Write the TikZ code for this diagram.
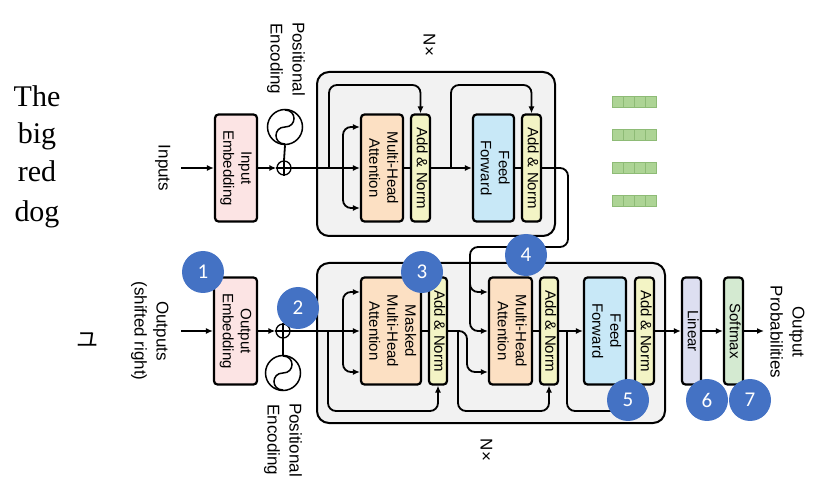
\documentclass[tikz,border=0pt]{standalone}
\usepackage{fontspec}
\setmainfont{Liberation Sans}
\newfontfamily\dogfont{Liberation Serif}
\newfontfamily\numfont{Carlito}
\newfontfamily\cjkfont{Noto Sans CJK JP}
\usepackage{graphicx}
\usetikzlibrary{arrows.meta,calc}
\definecolor{embpink}{HTML}{FCE4E4}
\definecolor{mhaorange}{HTML}{FCE0C3}
\definecolor{anyellow}{HTML}{F3F4C5}
\definecolor{ffblue}{HTML}{C8E8F7}
\definecolor{linpurple}{HTML}{DDDFF1}
\definecolor{softgreen}{HTML}{D4EAD1}
\definecolor{stackgray}{HTML}{F2F2F2}
\definecolor{circblue}{HTML}{4472C4}
\definecolor{sqgreen}{HTML}{ADD495}
\definecolor{sqedge}{HTML}{8EBB76}
\newcommand{\rottext}[1]{\rotatebox{-90}{\begin{tabular}{@{}c@{}}#1\end{tabular}}}
\begin{document}
\begin{tikzpicture}[x=1pt,y=-1pt,
  box/.style={draw=black, line width=2.2pt, rounded corners=3.5pt, inner sep=0pt,
    font=\fontsize{15}{18}\selectfont, minimum height=107pt},
  stack/.style={draw=black, line width=2pt, rounded corners=12pt, fill=stackgray},
  ln/.style={line width=1.8pt},
  arr/.style={line width=1.8pt, -{Latex[length=7pt,width=6pt]}},
  rc/.style={rounded corners=8pt},
  lbl/.style={font=\fontsize{17}{22}\selectfont, inner sep=0pt},
  num/.style={circle, fill=circblue, minimum size=42pt, inner sep=0pt, text=white,
    font=\numfont\fontsize{21}{21}\selectfont},
  plus/.style={circle, draw=black, line width=1.3pt, fill=white, minimum size=14pt, inner sep=0pt},
  pe/.style={circle, draw=black, line width=1.5pt, fill=white, minimum size=35pt, inner sep=0pt},
  sq/.style={fill=sqgreen, draw=sqedge, line width=0.8pt},
  word/.style={font=\dogfont\fontsize{30}{30}\selectfont, inner sep=0pt, anchor=base}
]
\useasboundingbox (0,0) rectangle (823,489);

% words
\node[word] (w1) at (37,107) {The};
\node[word] (w2) at (37,144) {big};
\node[word] (w3) at (37,182) {red};
\node[word] (w4) at (37,222) {dog};
\node[font=\cjkfont\fontsize{22}{22}\selectfont, inner sep=0pt] (ko) at (87,340) {ユ};

% green squares
\foreach \r/\yy in {1/96,2/129,3/162,4/195}{
  \foreach \c in {0,1,2,3}{
    \path[sq] (612+11*\c,\yy) rectangle (623+11*\c,\yy+11);
  }
}

% stacks
\draw[stack] (317,72) rectangle (555,236);
\draw[stack] (317,263) rectangle (665,423);
\node[lbl] (nx1) at (428,45) {\rottext{N×}};
\node[lbl] (nx2) at (485,450) {\rottext{N×}};

% encoder
\node[lbl] (inputs) at (163,168) {\rottext{Inputs}};
\coordinate (inA) at (181,168);
\node[box, fill=embpink, minimum width=42pt] (inemb) at (236,168) {\rottext{Input\\Embedding}};
\node[plus] (op1) at (284,168) {};
\draw[line width=1.3pt] (op1.north) -- (op1.south) (op1.west) -- (op1.east);
\node[pe] (pe1) at (285,127) {};
\draw[line width=1.5pt] ($(pe1)+(0,-17)$) .. controls +(12,0) and +(12,0) .. (pe1.center)
  .. controls +(-12,0) and +(-12,0) .. ($(pe1)+(0,17)$);
\node[lbl] (pel1) at (286,59) {\rottext{Positional\\Encoding}};

\node[box, fill=mhaorange, minimum width=42pt] (mha1) at (382,168) {\rottext{Multi-Head\\Attention}};
\node[box, fill=anyellow, minimum width=19pt] (an1) at (420.5,168) {\rottext{Add \& Norm}};
\node[box, fill=ffblue, minimum width=41pt] (ff1) at (493.5,168) {\rottext{Feed\\Forward}};
\node[box, fill=anyellow, minimum width=19pt] (an2) at (531.5,168) {\rottext{Add \& Norm}};

\draw[arr] (inA) -- (inemb.west);
\draw[arr] (inemb.east) -- (op1.west);
\draw[ln] (pe1.south) -- (op1.north);
\draw[arr] (op1.east) -- (mha1.west);
\coordinate (r1) at (329,168);
\draw[arr, rc] (r1) -- (329,85) -| (an1.north);
\coordinate (b1) at (343,168);
\draw[arr, rc] (b1) |- ($(mha1.west)+(0,-41)$);
\draw[arr, rc] (b1) |- ($(mha1.west)+(0,40)$);
\draw[ln] (mha1.east) -- (an1.west);
\draw[arr] (an1.east) -- (ff1.west);
\coordinate (r2) at (451,168);
\draw[arr, rc] (r2) -- (451,85) -| (an2.north);
\draw[ln] (ff1.east) -- (an2.west);

% decoder
\node[lbl] (outputs) at (150,331) {\rottext{Outputs\\(shifted right)}};
\coordinate (outA) at (181,331);
\node[box, fill=embpink, minimum width=43pt] (outemb) at (235.5,331) {\rottext{Output\\Embedding}};
\node[plus] (op2) at (283,331) {};
\draw[line width=1.3pt] (op2.north) -- (op2.south) (op2.west) -- (op2.east);
\node[pe] (pe2) at (283,373) {};
\draw[line width=1.5pt] ($(pe2)+(0,-17)$) .. controls +(12,0) and +(12,0) .. (pe2.center)
  .. controls +(-12,0) and +(-12,0) .. ($(pe2)+(0,17)$);
\node[lbl] (pel2) at (283,440) {\rottext{Positional\\Encoding}};

\node[box, fill=mhaorange, minimum width=60pt] (mmha) at (391,331) {\rottext{Masked\\Multi-Head\\Attention}};
\node[box, fill=anyellow, minimum width=18pt] (dan1) at (438,331) {\rottext{Add \& Norm}};
\node[box, fill=mhaorange, minimum width=43pt] (cmha) at (510.5,331) {\rottext{Multi-Head\\Attention}};
\node[box, fill=anyellow, minimum width=18pt] (dan2) at (549,331) {\rottext{Add \& Norm}};
\node[box, fill=ffblue, minimum width=42pt] (dff) at (605,331) {\rottext{Feed\\Forward}};
\node[box, fill=anyellow, minimum width=19pt] (dan3) at (644.5,331) {\rottext{Add \& Norm}};
\node[box, fill=linpurple, minimum width=19pt] (lin) at (691.5,331) {\rottext{Linear}};
\node[box, fill=softgreen, minimum width=19pt] (soft) at (733.5,331) {\rottext{Softmax}};
\node[lbl] (outp) at (786,332) {\rottext{Output\\Probabilities}};
\coordinate (outB) at (764,331);

\draw[arr] (outA) -- (outemb.west);
\draw[arr] (outemb.east) -- (op2.west);
\draw[ln] (pe2.north) -- (op2.south);
\draw[arr] (op2.east) -- (mmha.west);
\coordinate (r3) at (328,331);
\draw[arr, rc] (r3) -- (328,411) -| (dan1.south);
\coordinate (b2) at (343,331);
\draw[arr, rc] (b2) |- ($(mmha.west)+(0,-39)$);
\draw[arr, rc] (b2) |- ($(mmha.west)+(0,41)$);
\draw[ln] (mmha.east) -- (dan1.west);
% encoder output into cross attention
\draw[arr, rc] (an2.east) -- (568,168) -- (568,247) -- (470,247) |- (cmha.west);
\coordinate (b3) at (470,268);
\draw[arr, rc] (b3) |- ($(cmha.west)+(0,-39)$);
\draw[arr, rc] (dan1.east) -- (467,331) |- ($(cmha.west)+(0,41)$);
\coordinate (r4) at (458,331);
\draw[arr, rc] (r4) -- (458,411) -| (dan2.south);
\draw[ln] (cmha.east) -- (dan2.west);
\draw[arr] (dan2.east) -- (dff.west);
\coordinate (r5) at (567,331);
\draw[arr, rc] (r5) -- (567,411) -| (dan3.south);
\draw[ln] (dff.east) -- (dan3.west);
\draw[arr] (dan3.east) -- (lin.west);
\draw[arr] (lin.east) -- (soft.west);
\draw[arr] (soft.east) -- (outB);

% numbered circles
\node[num] (n1) at (203,272) {1};
\node[num] (n2) at (298,308) {2};
\node[num] (n3) at (422,272) {3};
\node[num] (n4) at (526,255) {4};
\node[num] (n5) at (628,400) {5};
\node[num] (n6) at (707,400) {6};
\node[num] (n7) at (750,400) {7};
\end{tikzpicture}
\end{document}
